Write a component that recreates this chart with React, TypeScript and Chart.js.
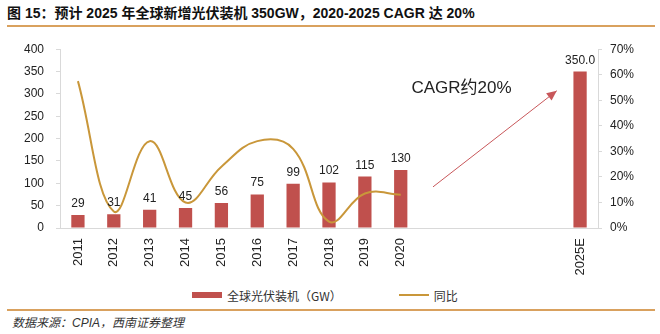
import React, { useEffect, useRef } from "react";
import { Chart, registerables } from "chart.js";

Chart.register(...registerables);

const categories = ["2011", "2012", "2013", "2014", "2015", "2016", "2017", "2018", "2019", "2020", "", "", "", "", "2025E"];
const installed = [29, 31, 41, 45, 56, 75, 99, 102, 115, 130, null, null, null, null, 350];
const installedLabels = ["29", "31", "41", "45", "56", "75", "99", "102", "115", "130", "", "", "", "", "350.0"];
const yoy = [57.5, 6.5, 34, 10, 24, 34, 31, 2.5, 13.5, 13, null, null, null, null, null];
const seriesNames = ["全球光伏装机（GW）", "同比"];
const titleText = "图 15：预计 2025 年全球新增光伏装机 350GW，2020-2025 CAGR 达 20%";
const sourceText = "数据来源：CPIA，西南证券整理";
const annotationText = "CAGR约20%";

const FONT = "'Liberation Sans', Arial, 'Noto Sans CJK SC', sans-serif";
const BAR = "#C0504D";
const LINE = "#C9973A";
const RULE = "#D9A15E";

const labelsPlugin = {
  id: "barLabels",
  afterDatasetsDraw(chart: any) {
    const ctx = chart.ctx;
    const meta = chart.getDatasetMeta(0);
    ctx.save();
    ctx.font = `12px ${FONT}`;
    ctx.fillStyle = "#222";
    ctx.textAlign = "center";
    ctx.textBaseline = "alphabetic";
    meta.data.forEach((el: any, i: number) => {
      if (installed[i] == null) return;
      ctx.fillText(installedLabels[i], el.x, el.y - 8);
    });
    const xs = chart.scales.x;
    const ys = chart.scales.y;
    const x0 = xs.getPixelForValue(9.9);
    const y0 = ys.getPixelForValue(92);
    const x1 = xs.getPixelForValue(13.35);
    const y1 = ys.getPixelForValue(307);
    ctx.strokeStyle = "#C8575A";
    ctx.fillStyle = "#C8575A";
    ctx.lineWidth = 1;
    ctx.beginPath();
    ctx.moveTo(x0, y0);
    ctx.lineTo(x1, y1);
    ctx.stroke();
    const ang = Math.atan2(y1 - y0, x1 - x0);
    const L = 10, W = 4.5;
    ctx.beginPath();
    ctx.moveTo(x1, y1);
    ctx.lineTo(x1 - L * Math.cos(ang) + W * Math.sin(ang), y1 - L * Math.sin(ang) - W * Math.cos(ang));
    ctx.lineTo(x1 - L * Math.cos(ang) - W * Math.sin(ang), y1 - L * Math.sin(ang) + W * Math.cos(ang));
    ctx.closePath();
    ctx.fill();
    ctx.font = `17px ${FONT}`;
    ctx.fillStyle = "#222";
    ctx.textAlign = "left";
    ctx.textBaseline = "middle";
    ctx.fillText(annotationText, xs.getPixelForValue(9.3), ys.getPixelForValue(313));
    ctx.restore();
  },
};

export default function App() {
  const ref = useRef<HTMLCanvasElement | null>(null);
  useEffect(() => {
    if (!ref.current) return;
    const chart = new Chart(ref.current, {
      type: "bar",
      data: {
        labels: categories,
        datasets: [
          {
            type: "bar",
            label: seriesNames[0],
            data: installed as any,
            backgroundColor: BAR,
            yAxisID: "y",
            order: 2,
            categoryPercentage: 1,
            barPercentage: 0.37,
          },
          {
            type: "line",
            label: seriesNames[1],
            data: yoy as any,
            borderColor: LINE,
            borderWidth: 2,
            pointRadius: 0,
            tension: 0.4,
            cubicInterpolationMode: "default",
            yAxisID: "y1",
            order: 1,
            spanGaps: false,
          } as any,
        ],
      },
      options: {
        animation: false,
        responsive: false,
        maintainAspectRatio: false,
        layout: { padding: { top: 12, bottom: 0, left: 0, right: 0 } },
        plugins: { legend: { display: false }, tooltip: { enabled: false } },
        scales: {
          x: {
            offset: true,
            grid: { display: false, drawTicks: false },
            border: { display: true, color: "#d9d9d9" },
            ticks: {
              autoSkip: false,
              minRotation: 90,
              maxRotation: 90,
              padding: 10,
              color: "#222",
              font: { family: FONT, size: 13 },
            },
            afterFit: (a: any) => { a.height = 52; },
          },
          y: {
            position: "left",
            min: 0,
            max: 400,
            ticks: { stepSize: 50, padding: 12, color: "#222", font: { family: FONT, size: 12 } },
            grid: { drawOnChartArea: false, tickLength: 4, color: "#d9d9d9" },
            border: { display: true, color: "#d9d9d9" },
            afterFit: (a: any) => { a.width = 60; },
          },
          y1: {
            position: "right",
            min: 0,
            max: 70,
            ticks: {
              stepSize: 10,
              padding: 8,
              color: "#222",
              font: { family: FONT, size: 12 },
              callback: (v: any) => `${v}%`,
            },
            grid: { drawOnChartArea: false, tickLength: 4, color: "#d9d9d9" },
            border: { display: true, color: "#d9d9d9" },
            afterFit: (a: any) => { a.width = 62; },
          },
        },
      },
      plugins: [labelsPlugin],
    });
    return () => chart.destroy();
  }, []);

  return (
    <div style={{ position: "fixed", left: 0, top: 0, width: 660, height: 334, background: "#fff", fontFamily: FONT, overflow: "hidden" }}>
      <div style={{ position: "absolute", left: 7, top: 5, fontSize: 14, fontWeight: "bold", color: "#111", whiteSpace: "nowrap", lineHeight: "16px" }}>
        {titleText}
      </div>
      <div style={{ position: "absolute", left: 7, right: 5, top: 25, height: 2, background: RULE }} />
      <canvas ref={ref} width={660} height={250} style={{ position: "absolute", left: 0, top: 30, width: 660, height: 250 }} />
      <div style={{ position: "absolute", left: 192, top: 287, height: 16, display: "flex", alignItems: "center", fontSize: 12, color: "#333", fontFamily: "'Noto Sans CJK SC', sans-serif", whiteSpace: "nowrap" }}>
        <span style={{ display: "inline-block", width: 30, height: 6, background: BAR, marginRight: 5 }} />
        <span>{seriesNames[0]}</span>
        <span style={{ display: "inline-block", width: 30, height: 2, background: LINE, marginLeft: 57, marginRight: 5 }} />
        <span>{seriesNames[1]}</span>
      </div>
      <div style={{ position: "absolute", left: 7, right: 5, top: 309, height: 2, background: RULE }} />
      <div style={{ position: "absolute", left: 12, top: 314, fontSize: 12, fontStyle: "italic", color: "#333", whiteSpace: "nowrap", lineHeight: "18px" }}>
        {sourceText}
      </div>
    </div>
  );
}
